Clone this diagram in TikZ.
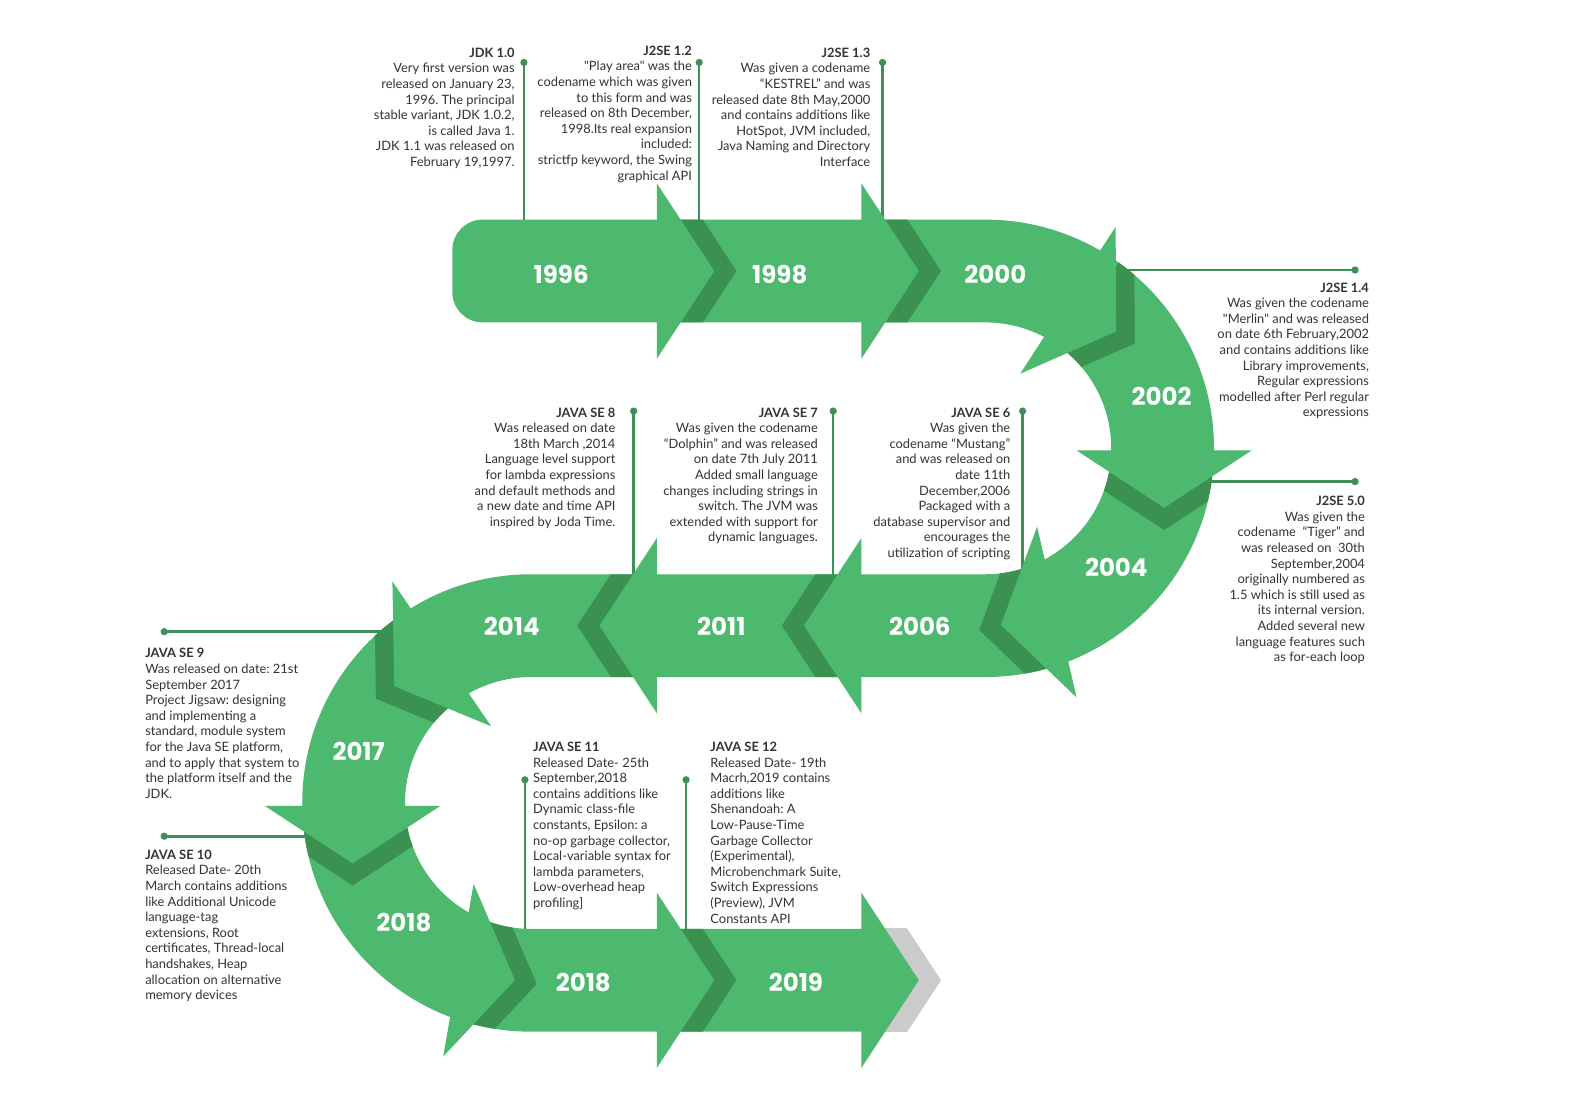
\documentclass[tikz,border=0pt]{standalone}
\usepackage{fontspec}
\newfontfamily\txtfont{Lato}
\newfontfamily\yearfont{Poppins}
\definecolor{bandg}{HTML}{4DB96E}
\definecolor{darkg}{HTML}{3A9150}
\definecolor{grayc}{HTML}{CBCBCB}
\definecolor{connc}{HTML}{3F8F5A}
\definecolor{txtc}{HTML}{333333}
\tikzset{
  txt/.style={font=\txtfont\frenchspacing\fontsize{12.9}{15.6}\selectfont, text=txtc, inner sep=0pt},
  rtxt/.style={txt, align=right, anchor=north east},
  ltxt/.style={txt, align=left, anchor=north west},
  yr/.style={font=\yearfont\bfseries\fontsize{24.5}{24.5}\selectfont, text=white, inner sep=0pt},
  conn/.style={draw=connc, line width=2.6pt},
}
\newcommand{\bandpath}{(479,218) -- (978,218) arc[start angle=-90, end angle=90, radius=227]
  -- (527,672) arc[start angle=-90, end angle=-270, radius=125]
  -- (870,922) -- (870,1024) -- (527,1024) arc[start angle=90, end angle=270, radius=227]
  -- (978,570) arc[start angle=90, end angle=-90, radius=125]
  -- (479,320) arc[start angle=90, end angle=180, radius=30]
  -- (449,248) arc[start angle=180, end angle=270, radius=30] -- cycle}
\newcommand{\lighthead}[3]{\fill[bandg, shift={(#1,#2)}, rotate=#3] (0,-87) -- (57,0) -- (0,87) -- cycle;}
\newcommand{\shadehead}[4]{\fill[#4, shift={(#1,#2)}, rotate=#3] (22,-87) -- (79,0) -- (22,87) -- cycle;}
\begin{document}
\begin{tikzpicture}[x=1.00745pt,y=-1.00745pt]
\useasboundingbox (0,0) rectangle (1567.3,1098.8);
\fill[white] (0,0) rectangle (1567.3,1098.8);
% connectors
\coordinate (d1) at (520,62);   \coordinate (e1) at (520,230);
\coordinate (d2) at (694,62);   \coordinate (e2) at (694,230);
\coordinate (d3) at (876,62);   \coordinate (e3) at (876,230);
\coordinate (d4) at (1345,268); \coordinate (e4) at (1100,268);
\coordinate (d5) at (1345,478); \coordinate (e5) at (1190,478);
\coordinate (d6) at (629,408);  \coordinate (e6) at (629,585);
\coordinate (d7) at (827,408);  \coordinate (e7) at (827,585);
\coordinate (d8) at (1015,408); \coordinate (e8) at (1015,580);
\coordinate (d9) at (163,627);  \coordinate (e9) at (400,627);
\coordinate (d10) at (163,830); \coordinate (e10) at (320,830);
\coordinate (d11) at (521,774); \coordinate (e11) at (521,935);
\coordinate (d12) at (681,774); \coordinate (e12) at (681,935);
\foreach \i in {1,...,12}{
  \draw[conn] (d\i) -- (e\i);
  \fill[connc] (d\i) circle (3.6);
}
% band
\fill[bandg] \bandpath;
\begin{scope}
  \clip \bandpath;
  \shadehead{652}{269}{0}{darkg}
  \shadehead{855}{269}{0}{darkg}
  \shadehead{1060}{298}{-33}{darkg}
  \shadehead{1155.5}{447}{-90}{darkg}
  \shadehead{1049}{607.5}{-167}{darkg}
  \shadehead{855}{621}{180}{darkg}
  \shadehead{652}{621}{180}{darkg}
  \shadehead{438.5}{649}{-145.7}{darkg}
  \shadehead{350}{800}{-90}{darkg}
  \shadehead{455}{963}{-10}{darkg}
  \shadehead{652}{973}{0}{darkg}
\end{scope}
\begin{scope}
  \clip (800,922) rectangle (1000,1024);
  \shadehead{855}{973}{0}{grayc}
\end{scope}
\lighthead{652}{269}{0}
\lighthead{855}{269}{0}
\lighthead{1060}{298}{-33}
\lighthead{1155.5}{447}{-90}
\lighthead{1049}{607.5}{-167}
\lighthead{855}{621}{180}
\lighthead{652}{621}{180}
\lighthead{438.5}{649}{-145.7}
\lighthead{350}{800}{-90}
\lighthead{455}{963}{-10}
\lighthead{652}{973}{0}
\lighthead{855}{973}{0}
% years
\node[yr] (y1) at (557,272) {1996};
\node[yr] (y2) at (774,272) {1998};
\node[yr] (y3) at (988,272) {2000};
\node[yr] (y4) at (1153,393) {2002};
\node[yr] (y5) at (1108,563) {2004};
\node[yr] (y6) at (913,622) {2006};
\node[yr] (y7) at (716,622) {2011};
\node[yr] (y8) at (508,622) {2014};
\node[yr] (y9) at (356,746) {2017};
\node[yr] (y10) at (401,916) {2018};
\node[yr] (y11) at (579,975) {2018};
\node[yr] (y12) at (790,975) {2019};
% texts
\node[rtxt] (tA) at (511,47.4) {{\bfseries JDK 1.0}\\Very first version was\\released on January 23,\\1996. The principal\\stable variant, JDK 1.0.2,\\is called Java 1.\\JDK 1.1 was released on\\February 19,1997.};
\node[rtxt] (tB) at (687,45.4) {{\bfseries J2SE 1.2}\\"Play area" was the\\codename which was given\\to this form and was\\released on 8th December,\\1998.Its real expansion\\included:\\strictfp keyword, the Swing\\graphical API};
\node[rtxt] (tC) at (864,47.4) {{\bfseries J2SE 1.3}\\Was given a codename\\“KESTREL” and was\\released date 8th May,2000\\and contains additions like\\HotSpot, JVM included,\\Java Naming and Directory\\Interface};
\node[rtxt] (tD) at (1359,280.4) {{\bfseries J2SE 1.4}\\Was given the codename\\"Merlin" and was released\\on date 6th February,2002\\and contains additions like\\Library improvements,\\Regular expressions\\modelled after Perl regular\\expressions};
\node[rtxt] (tE) at (1355,492.4) {{\bfseries J2SE 5.0}\\Was given the\\codename\ \ “Tiger” and\\was released on\ \ 30th\\September,2004\\originally numbered as\\1.5 which is still used as\\its internal version.\\Added several new\\language features such\\as for-each loop};
\node[rtxt] (tF) at (611,404.4) {{\bfseries JAVA SE 8}\\Was released on date\\18th March ,2014\\Language level support\\for lambda expressions\\and default methods and\\a new date and time API\\inspired by Joda Time.};
\node[rtxt] (tG) at (812,404.4) {{\bfseries JAVA SE 7}\\Was given the codename\\“Dolphin” and was released\\on date 7th July 2011\\Added small language\\changes including strings in\\switch. The JVM was\\extended with support for\\dynamic languages.};
\node[rtxt] (tH) at (1003,404.4) {{\bfseries JAVA SE 6}\\Was given the\\codename “Mustang”\\and was released on\\date 11th\\December,2006\\Packaged with a\\database supervisor and\\encourages the\\utilization of scripting};
\node[ltxt] (tI) at (144,643.4) {{\bfseries JAVA SE 9}\\Was released on date: 21st\\September 2017\\Project Jigsaw: designing\\and implementing a\\standard, module system\\for the Java SE platform,\\and to apply that system to\\the platform itself and the\\JDK.};
\node[ltxt] (tJ) at (144,843.4) {{\bfseries JAVA SE 10}\\Released Date- 20th\\March contains additions\\like Additional Unicode\\language-tag\\extensions, Root\\certificates, Thread-local\\handshakes, Heap\\allocation on alternative\\memory devices};
\node[ltxt] (tK) at (529,736.4) {{\bfseries JAVA SE 11}\\Released Date- 25th\\September,2018\\contains additions like\\Dynamic class-file\\constants, Epsilon: a\\no-op garbage collector,\\Local-variable syntax for\\lambda parameters,\\Low-overhead heap\\profiling]};
\node[ltxt] (tL) at (705,736.4) {{\bfseries JAVA SE 12}\\Released Date- 19th\\Macrh,2019 contains\\additions like\\Shenandoah: A\\Low-Pause-Time\\Garbage Collector\\(Experimental),\\Microbenchmark Suite,\\Switch Expressions\\(Preview), JVM\\Constants API};
\end{tikzpicture}
\end{document}
